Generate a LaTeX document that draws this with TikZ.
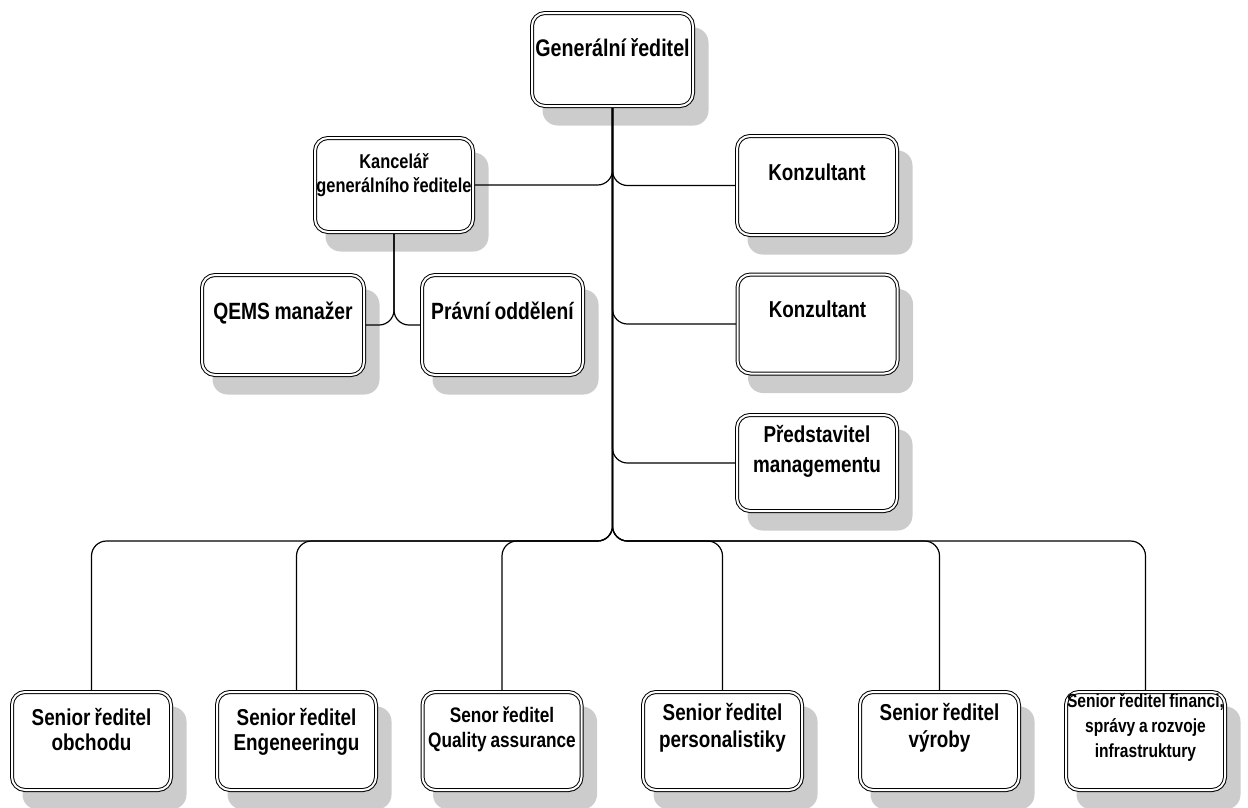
\documentclass[tikz,border=0pt]{standalone}
\usepackage{fontspec}
\setmainfont{Liberation Sans}[FakeStretch=0.82]

% narrower word gaps for the condensed captions
\newcommand\tightgaps{\spaceskip=0.19em\relax}

% layers: shadows at the bottom, connectors above them, boxes on top
\pgfdeclarelayer{shadowlayer}
\pgfdeclarelayer{linklayer}
\pgfsetlayers{shadowlayer,linklayer,main}

\tikzset{
  orgbox/.style={draw=black, line width=1pt, double=white, double distance=2pt,
    fill=white, rounded corners=13pt, inner sep=0pt,
    minimum width=159pt, minimum height=98pt},
  boxshadow/.style={fill=black!20, rounded corners=15pt},
  link/.style={draw=black, line width=1.2pt, rounded corners=15pt},
  caption/.style={anchor=base, inner sep=0pt, text width=176pt, align=flush center,
    font=\bfseries\fontsize{#1}{#1}\selectfont},
  caption/.default=23,
}

\begin{document}
\begin{tikzpicture}[x=1pt,y=-1pt]
\useasboundingbox (0,0) rectangle (1248,807);

% boxes
\node[orgbox, minimum width=161pt, minimum height=93pt] (G) at (612.5,59.5) {};
\node[orgbox, minimum width=158pt, minimum height=94pt] (K) at (394,185) {};
\node[orgbox, minimum width=160pt, minimum height=99pt] (C1) at (817,185.5) {};
\node[orgbox, minimum width=160pt, minimum height=99pt] (C2) at (817.5,324) {};
\node[orgbox, minimum width=160pt, minimum height=96pt] (P) at (817,463) {};
\node[orgbox, minimum width=162pt, minimum height=100pt] (Q) at (283,325) {};
\node[orgbox, minimum width=161pt, minimum height=100pt] (L) at (502.5,325) {};
\node[orgbox] (B1) at (91.5,741) {};
\node[orgbox] (B2) at (296.5,741) {};
\node[orgbox] (B3) at (502,741) {};
\node[orgbox] (B4) at (722.5,741) {};
\node[orgbox] (B5) at (939.5,741) {};
\node[orgbox] (B6) at (1145.5,741) {};

% captions
\node[caption=24] (tG) at (612.5,56) {\tightgaps Generální ředitel};
\node[caption=20] (tK) at (394,168) {\tightgaps Kancelář\\[4pt]generálního ředitele};
\node[caption] (tC1) at (817,180) {Konzultant};
\node[caption] (tC2) at (817.5,317) {Konzultant};
\node[caption] (tP) at (817,442) {Představitel\\[7pt]managementu};
\node[caption=23.5] (tQ) at (283,319) {\tightgaps QEMS manažer};
\node[caption=23.5] (tL) at (502.5,319) {\tightgaps Právní oddělení};
\node[caption] (tB1) at (91.5,725) {\tightgaps Senior ředitel\\[2pt]obchodu};
\node[caption] (tB2) at (296.5,725) {\tightgaps Senior ředitel\\[2pt]Engeneeringu};
\node[caption=21] (tB3) at (502,722) {\tightgaps Senor ředitel\\[4pt]Quality assurance};
\node[caption] (tB4) at (722.5,720) {\tightgaps Senior ředitel\\[4pt]personalistiky};
\node[caption] (tB5) at (939.5,720) {\tightgaps Senior ředitel\\[4pt]výroby};
\node[caption=19] (tB6) at (1145.5,707) {\tightgaps Senior ředitel financi,\\[6pt]správy a rozvoje\\[6pt]infrastruktury};

% drop shadows
\begin{pgfonlayer}{shadowlayer}
\foreach \n in {G,K,C1,C2,P,Q,L,B1,B2,B3,B4,B5,B6}
  \fill[boxshadow] ([xshift=11pt,yshift=-19pt]\n.south west)
    rectangle ([xshift=15pt,yshift=-15pt]\n.north east);
\end{pgfonlayer}

% connectors
\coordinate (bus) at (0,541);
\begin{pgfonlayer}{linklayer}
\draw[link] (G.south) |- (K.east);
\draw[link] (G.south) |- (C1.west);
\draw[link] (G.south) |- (C2.west);
\draw[link] (G.south) |- (P.west);
\draw[link] (K.south) |- (Q.east);
\draw[link] (K.south) |- (L.west);
\foreach \n in {B1,B2,B3,B4,B5,B6}
  \draw[link] (G.south) |- (\n.north |- bus) -- (\n.north);
\end{pgfonlayer}
\end{tikzpicture}
\end{document}
